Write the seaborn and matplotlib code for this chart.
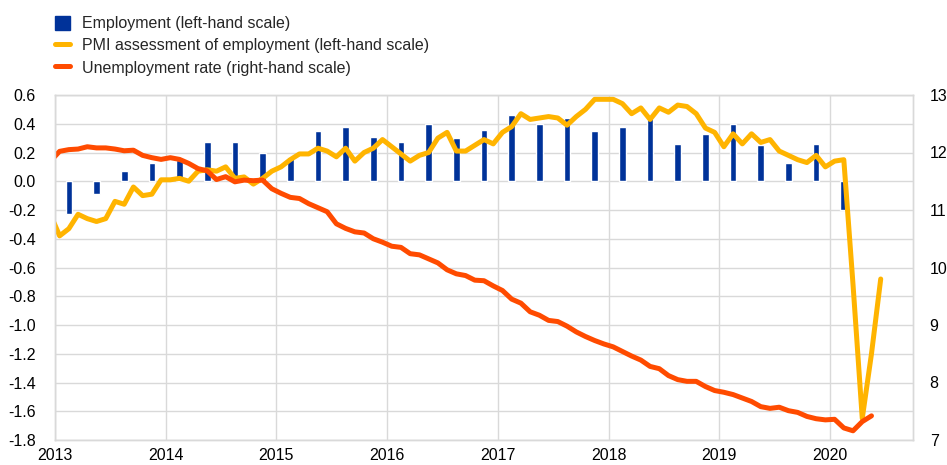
import pandas as pd
import numpy as np
import matplotlib.pyplot as plt
from matplotlib.lines import Line2D
from matplotlib.patches import Patch
import seaborn as sns

# monthly series, Dec 2012 - Jun 2020 (PMI) and Dec 2012 - May 2020 (unemployment)
pmi_employment = [
    -0.23,
    -0.38, -0.33, -0.23, -0.26, -0.28, -0.26, -0.14, -0.16, -0.04, -0.10, -0.09, 0.01,
    0.01, 0.02, 0.00, 0.07, 0.08, 0.07, 0.10, 0.02, 0.03, -0.02, 0.02, 0.07,
    0.10, 0.15, 0.19, 0.19, 0.23, 0.21, 0.17, 0.23, 0.14, 0.20, 0.23, 0.29,
    0.24, 0.19, 0.14, 0.18, 0.20, 0.30, 0.34, 0.21, 0.21, 0.25, 0.29, 0.26,
    0.34, 0.38, 0.47, 0.43, 0.44, 0.45, 0.44, 0.39, 0.45, 0.50, 0.57, 0.57,
    0.57, 0.54, 0.47, 0.51, 0.43, 0.51, 0.48, 0.53, 0.52, 0.47, 0.37, 0.34,
    0.24, 0.33, 0.26, 0.33, 0.27, 0.29, 0.21, 0.18, 0.15, 0.13, 0.18, 0.10,
    0.14, 0.15, -0.72, -1.65, -1.20, -0.68,
]
unemployment = [
    11.85,
    12.02, 12.05, 12.06, 12.10, 12.08, 12.08, 12.06, 12.03, 12.04, 11.95, 11.91, 11.88,
    11.91, 11.88, 11.81, 11.72, 11.68, 11.53, 11.58, 11.49, 11.52, 11.51, 11.52, 11.37,
    11.29, 11.22, 11.20, 11.11, 11.04, 10.97, 10.76, 10.68, 10.62, 10.60, 10.50, 10.44,
    10.37, 10.35, 10.24, 10.22, 10.15, 10.08, 9.96, 9.89, 9.86, 9.78, 9.77, 9.68,
    9.60, 9.45, 9.38, 9.23, 9.17, 9.08, 9.06, 8.98, 8.88, 8.80, 8.73, 8.67,
    8.62, 8.54, 8.46, 8.39, 8.28, 8.24, 8.12, 8.05, 8.02, 8.02, 7.93, 7.86,
    7.83, 7.79, 7.73, 7.67, 7.58, 7.55, 7.57, 7.51, 7.48, 7.41, 7.37, 7.35,
    7.36, 7.21, 7.16, 7.32, 7.42,
]
# quarterly employment growth, Q1 2013 - Q1 2020
employment = [
    -0.23, -0.09, 0.07, 0.13,
    0.15, 0.27, 0.27, 0.20,
    0.17, 0.35, 0.38, 0.31,
    0.27, 0.40, 0.30, 0.36,
    0.46, 0.40, 0.44, 0.35,
    0.38, 0.44, 0.26, 0.33,
    0.40, 0.25, 0.13, 0.26,
    -0.20,
]
year_labels = ['2013', '2014', '2015', '2016', '2017', '2018', '2019', '2020']
left_ticks = [-1.8, -1.6, -1.4, -1.2, -1.0, -0.8, -0.6, -0.4, -0.2, 0.0, 0.2, 0.4, 0.6]
right_ticks = [7, 8, 9, 10, 11, 12, 13]

labels = ['Employment (left-hand scale)',
          'PMI assessment of employment (left-hand scale)',
          'Unemployment rate (right-hand scale)']

# decimal-year positions (mid-month / mid-quarter)
months = pd.period_range('2012-12', periods=len(pmi_employment), freq='M')
month_x = months.year + (months.month - 0.5) / 12
quarters = pd.period_range('2013Q1', periods=len(employment), freq='Q')
quarter_x = quarters.year + (quarters.quarter - 0.5) / 4

pmi_df = pd.DataFrame({'x': month_x, 'value': pmi_employment})
ur_df = pd.DataFrame({'x': month_x[:len(unemployment)], 'value': unemployment})

blue = '#003299'
yellow = '#FFB400'
orange = '#FF4B00'
grid_col = '#D9D9D9'

sns.set_theme(style='white')
plt.rcParams['font.family'] = ['Liberation Sans', 'DejaVu Sans']
text_size = 11.5

fig = plt.figure(figsize=(9.47, 4.65), dpi=100)
ax = fig.add_axes([55 / 947, 1 - 440 / 465, (913 - 55) / 947, (440 - 95) / 465])
ax2 = ax.twinx()

ax.bar(quarter_x, employment, width=0.06, color=blue, zorder=2)
sns.lineplot(data=pmi_df, x='x', y='value', ax=ax, color=yellow, linewidth=3.6,
             zorder=3, solid_joinstyle='round', solid_capstyle='round')
sns.lineplot(data=ur_df, x='x', y='value', ax=ax2, color=orange, linewidth=3.6,
             solid_joinstyle='round', solid_capstyle='round')

ax.set_xlim(2013, 2020.75)
ax.set_ylim(-1.8, 0.6)
ax2.set_ylim(7, 13)
ax.set_xticks(range(2013, 2021))
ax.set_xticklabels(year_labels)
ax.set_yticks(left_ticks)
ax.set_yticklabels([f'{t:.1f}' for t in left_ticks])
ax2.set_yticks(right_ticks)
ax2.set_yticklabels([str(t) for t in right_ticks])

ax.grid(True, color=grid_col, linewidth=1)
ax.set_axisbelow(True)
ax2.grid(False)
for a in (ax, ax2):
    for s in a.spines.values():
        s.set_color(grid_col)
        s.set_linewidth(1)
    a.set_xlabel('')
    a.set_ylabel('')
ax.tick_params(axis='y', length=0, pad=14, labelsize=text_size, colors='black')
ax.tick_params(axis='x', length=0, pad=6, labelsize=text_size, colors='black')
ax2.tick_params(axis='y', length=0, pad=12, labelsize=text_size, colors='black')

handles = [Patch(color=blue),
           Line2D([0], [0], color=yellow, linewidth=3.6),
           Line2D([0], [0], color=orange, linewidth=3.6)]
fig.legend(handles, labels, loc='upper left', bbox_to_anchor=(55 / 947, 1 - 16 / 465),
           frameon=False, fontsize=text_size, handlelength=0.95, handleheight=0.95,
           handletextpad=0.75, labelspacing=0.42, borderpad=0, borderaxespad=0)

fig.savefig('out.png', dpi=100)
